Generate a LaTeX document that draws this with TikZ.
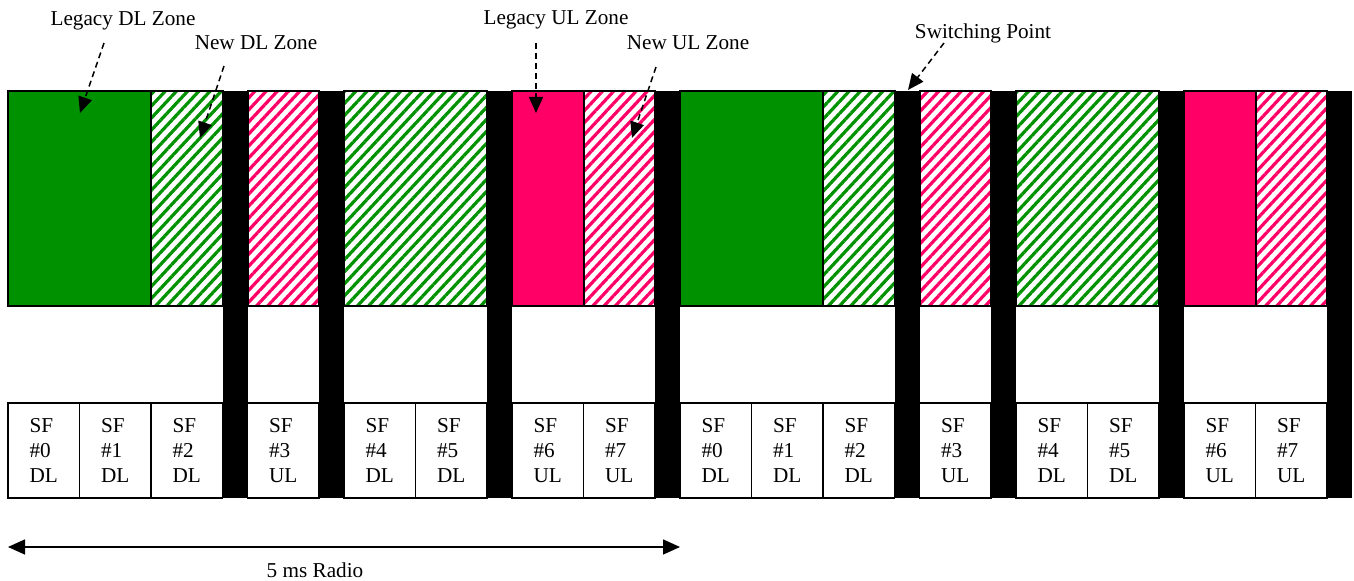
\documentclass[tikz,border=0pt]{standalone}
\usepackage{fontspec}
\setmainfont{Liberation Serif}
\usetikzlibrary{arrows.meta}
\usetikzlibrary{patterns.meta}

\definecolor{dlgreen}{RGB}{0,145,0}
\definecolor{ulpink}{RGB}{255,0,102}
\newcommand{\diagfont}{\fontsize{10.6}{12.5}\selectfont}

\tikzset{
    zoneedge/.style={draw=black, line width=1pt},
    legacydl/.style={zoneedge, fill=dlgreen},
    legacyul/.style={zoneedge, fill=ulpink},
    newdl/.style={zoneedge, pattern={Lines[angle=47,distance=4.1pt,line width=1.6pt]}, pattern color=dlgreen},
    newul/.style={zoneedge, pattern={Lines[angle=47,distance=4.1pt,line width=1.6pt]}, pattern color=ulpink},
    sfbox/.style={draw=black, fill=white, line width=0.75pt, minimum width=35.75pt,
        minimum height=47.5pt, inner sep=0pt, align=left, font=\diagfont},
    guardbar/.style={fill=black},
    zonelabel/.style={anchor=base, inner sep=0pt, font=\diagfont},
    zonearrow/.style={dash pattern=on 3pt off 2pt, line width=0.75pt, -{Triangle[length=8pt,width=7pt]}},
    spanarrow/.style={line width=0.75pt, {Triangle[length=8.5pt,width=7.5pt]}-{Triangle[length=8.5pt,width=7.5pt]}},
}

\begin{document}
\begin{tikzpicture}[x=0.5pt,y=-0.5pt]
        \useasboundingbox (0,0) rectangle (1354,581);
        % two 5 ms halves: zones, subframes, switching gaps
        \foreach \h in {0,1} {
            \foreach \a/\b/\st in {0/143/legacydl, 143/214.5/newdl, 239.5/311/newul,
                    336/479/newdl, 504/575.5/legacyul, 575.5/647/newul}
                \draw[\st] ({8+672*\h+\a},91) rectangle ({8+672*\h+\b},306);
            \foreach \a/\n/\dir in {0/0/DL, 71.5/1/DL, 143/2/DL, 239.5/3/UL,
                    336/4/DL, 407.5/5/DL, 504/6/UL, 575.5/7/UL}
                \node[sfbox] (sf\h\n) at ({8+672*\h+\a+35.75},450.5) {SF\\\#\n\\\dir};
            \foreach \a in {214.5,311,479,647}
                \fill[guardbar] ({8+672*\h+\a},91) rectangle +(25,407);
        }

        \node[zonelabel] (lbllegdl) at (123,26) {Legacy DL Zone};
        \node[zonelabel] (lblnewdl) at (256,50) {New DL Zone};
        \node[zonelabel] (lbllegul) at (556,25) {Legacy UL Zone};
        \node[zonelabel] (lblnewul) at (688,50) {New UL Zone};
        \node[zonelabel] (lblswitch) at (983,39) {Switching Point};
        \coordinate (tiplegdl) at (80,113);
        \coordinate (tipnewdl) at (200,138);
        \coordinate (tiplegul) at (536,113);
        \coordinate (tipnewul) at (632,138);
        \coordinate (tipswitch) at (908,90);

        \draw[zonearrow] ([xshift=-9.5pt,yshift=-8.5pt]lbllegdl.base) -- (tiplegdl);
        \draw[zonearrow] ([xshift=-16pt,yshift=-8pt]lblnewdl.base) -- (tipnewdl);
        \draw[zonearrow] ([xshift=-10pt,yshift=-9pt]lbllegul.base) -- (tiplegul);
        \draw[zonearrow] ([xshift=-16pt,yshift=-8.5pt]lblnewul.base) -- (tipnewul);
        \draw[zonearrow] ([xshift=-19.5pt,yshift=-2pt]lblswitch.base) -- (tipswitch);

        \coordinate (radiostart) at (8,547);
        \coordinate (radioend) at (680,547);
        \draw[spanarrow] (radiostart) -- (radioend);
        \node[zonelabel] (lblradio) at (315,578) {5 ms Radio};
    \end{tikzpicture}
\end{document}
